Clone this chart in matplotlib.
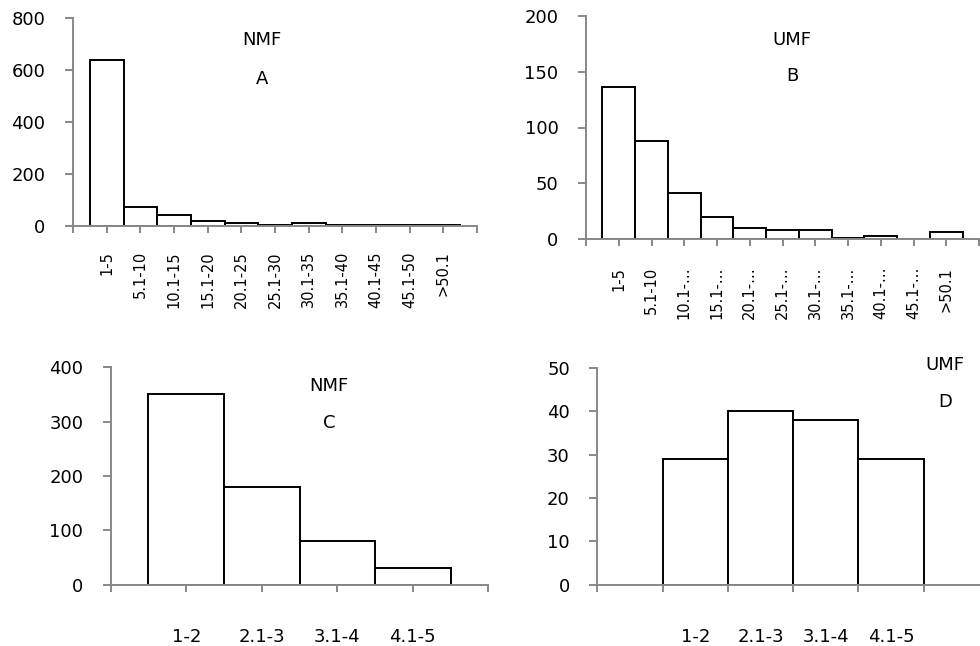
import matplotlib
matplotlib.use("Agg")
import matplotlib.pyplot as plt
import numpy as np

plt.rcParams['font.family'] = ['DejaVu Sans']

# size classes (panels A, B)
size_labels_a = ["1-5", "5.1-10", "10.1-15", "15.1-20", "20.1-25", "25.1-30",
                 "30.1-35", "35.1-40", "40.1-45", "45.1-50", ">50.1"]
size_labels_b = ["1-5", "5.1-10", "10.1-\u2026", "15.1-\u2026", "20.1-\u2026", "25.1-\u2026",
                 "30.1-\u2026", "35.1-\u2026", "40.1-\u2026", "45.1-\u2026", ">50.1"]
nmf_size = [640, 73, 42, 18, 13, 5, 10, 5, 4, 4, 4]
umf_size = [136, 88, 41, 20, 10, 8, 8, 1, 3, 0, 6]

# classes (panels C, D)
class_labels = ["1-2", "2.1-3", "3.1-4", "4.1-5"]
nmf_class = [350, 180, 80, 30]
umf_class = [29, 40, 38, 29]

GREY = "#888888"
W, H = 980, 646


def style_axes(ax, ymax, ystep, ylen=8):
    for s in ["top", "right"]:
        ax.spines[s].set_visible(False)
    for s in ["left", "bottom"]:
        ax.spines[s].set_color(GREY)
        ax.spines[s].set_linewidth(1.4)
    ax.set_ylim(0, ymax)
    ax.set_yticks(np.arange(0, ymax + 1, ystep))
    ax.tick_params(axis="y", length=ylen / 1.389, width=1.4, color=GREY,
                   labelsize=13, pad=14)
    ax.tick_params(axis="x", which="major", length=5, width=1.4, color=GREY)


def add_axes(fig, left, right, top, bottom):
    return fig.add_axes([left / W, (H - bottom) / H, (right - left) / W, (bottom - top) / H])


fig = plt.figure(figsize=(9.8, 6.46), dpi=100)

# ---- A ----
ax = add_axes(fig, 73, 477, 18, 226)
pos = np.arange(1, len(nmf_size) + 1)
ax.bar(pos, nmf_size, width=1.0, color="white", edgecolor="black", linewidth=1.4)
ax.set_xlim(0, len(nmf_size) + 1)
style_axes(ax, 800, 200)
ax.set_xticks(np.arange(0, len(nmf_size) + 2))
ax.set_xticklabels([""] + size_labels_a + [""], rotation=90, fontsize=10.5)
ax.tick_params(axis="x", pad=13)
ax.text(0.468, 0.894, "NMF", transform=ax.transAxes, ha="center", va="center", fontsize=13)
ax.text(0.468, 0.707, "A", transform=ax.transAxes, ha="center", va="center", fontsize=13)

# ---- B ----
ax = add_axes(fig, 586, 979, 16, 239)
pos = np.arange(1, len(umf_size) + 1)
ax.bar(pos, umf_size, width=1.0, color="white", edgecolor="black", linewidth=1.4)
ax.set_xlim(0, len(umf_size) + 1)
style_axes(ax, 200, 50)
ax.set_xticks(np.arange(0, len(umf_size) + 2))
ax.set_xticklabels([""] + size_labels_b + [""], rotation=90, fontsize=10.5)
ax.tick_params(axis="x", pad=15)
ax.text(0.524, 0.892, "UMF", transform=ax.transAxes, ha="center", va="center", fontsize=13)
ax.text(0.524, 0.731, "B", transform=ax.transAxes, ha="center", va="center", fontsize=13)

# ---- C ----
ax = add_axes(fig, 110.7, 488.3, 367.3, 584.7)
pos = np.arange(1, len(nmf_class) + 1)
ax.bar(pos, nmf_class, width=1.0, color="white", edgecolor="black", linewidth=1.4)
ax.set_xlim(0, len(nmf_class) + 1)
style_axes(ax, 400, 100)
ax.set_xticks(np.arange(0, len(nmf_class) + 2))
ax.set_xticklabels([""] + class_labels + [""], fontsize=13)
ax.tick_params(axis="x", pad=26)
ax.text(0.578, 0.914, "NMF", transform=ax.transAxes, ha="center", va="center", fontsize=13)
ax.text(0.578, 0.744, "C", transform=ax.transAxes, ha="center", va="center", fontsize=13)

# ---- D ----
ax = add_axes(fig, 597.3, 597.3 + 6 * 65.3, 368, 584.7)
pos = np.arange(1, len(umf_class) + 1)
ax.bar(pos, umf_class, width=1.0, align="edge", color="white", edgecolor="black", linewidth=1.4)
ax.set_xlim(0, 6)
style_axes(ax, 50, 10)
ax.set_xticks(np.arange(0, 7))
ax.set_xticklabels([])
ax.set_xticks(pos + 0.5, minor=True)
ax.set_xticklabels(class_labels, minor=True, fontsize=13)
ax.tick_params(axis="x", which="minor", length=0, pad=31)
ax.text(0.887, 1.014, "UMF", transform=ax.transAxes, ha="center", va="center", fontsize=13)
ax.text(0.887, 0.843, "D", transform=ax.transAxes, ha="center", va="center", fontsize=13)

fig.savefig("out.png", dpi=100)
